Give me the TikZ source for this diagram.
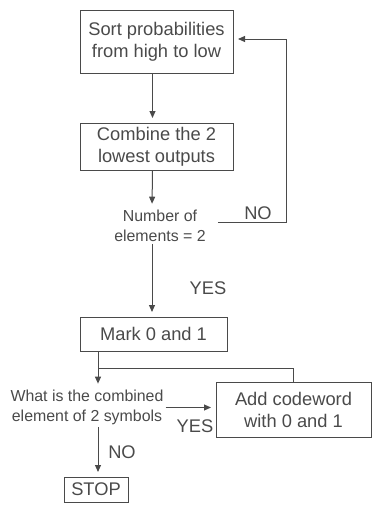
\documentclass[tikz,border=0pt]{standalone}
\usepackage{fontspec}
\setmainfont{Liberation Sans}
\usetikzlibrary{arrows.meta}
\definecolor{ink}{HTML}{4A4A4A}
\begin{document}
\begin{tikzpicture}[x=1pt,y=-1pt,
  box/.style={draw=ink, line width=1pt, text=ink, font=\fontsize{18.3}{22}\selectfont, align=center, inner sep=0pt},
  note/.style={text=ink, font=\fontsize{15.9}{19.5}\selectfont, align=center, inner sep=2pt},
  lbl/.style={text=ink, font=\fontsize{18.3}{22}\selectfont, inner sep=0pt},
  flow/.style={draw=ink, line width=1pt},
  go/.style={flow, -{Triangle[length=7pt,width=6pt]}, shorten >=4.5pt}]
  \useasboundingbox (0,0) rectangle (372,512);
  \node[box, minimum width=153, minimum height=63] (sort) at (156.5,41.5) {Sort probabilities\\from high to low};
  \node[box, minimum width=153, minimum height=47] (combine) at (156.5,146.5) {Combine the 2\\lowest outputs};
  \node[note] (check) at (160,226) {Number of\\elements = 2};
  \node[box, minimum width=147, minimum height=34] (mark) at (153.5,334) {Mark 0 and 1};
  \node[note] (combined) at (87,407.5) {What is the combined\\element of 2 symbols};
  \node[box, minimum width=155, minimum height=55] (add) at (293.5,409.5) {Add codeword\\with 0 and 1};
  \node[box, minimum width=64, minimum height=25] (stop) at (96,489.5) {STOP};
  \node[lbl] (no1) at (258,213) {NO};
  \node[lbl] (yes1) at (208,288) {YES};
  \node[lbl] (yes2) at (195,426) {YES};
  \node[lbl] (no2) at (122,452) {NO};
  \draw[go] ([xshift=-4]sort.south) -- ([xshift=-4]combine.north);
  \draw[go] ([xshift=-4]combine.south) -- ([xshift=-8]check.north);
  \draw[go] ([xshift=-8]check.south) -- ([xshift=-1.5]mark.north);
  \draw[go] ([xshift=10,yshift=4]check.east) -- ++(69,0) |- ([yshift=2.5]sort.east);
  \draw[go] ([xshift=-55.5]mark.south) -- ([xshift=11]combined.north);
  \draw[flow] ([xshift=-55.5]mark.south) ++(0,17) -| (add.north);
  \draw[go] (combined.east) -- (combined.east -| add.west);
  \draw[go] ([xshift=11]combined.south) -- ([xshift=2]stop.north);
\end{tikzpicture}
\end{document}
